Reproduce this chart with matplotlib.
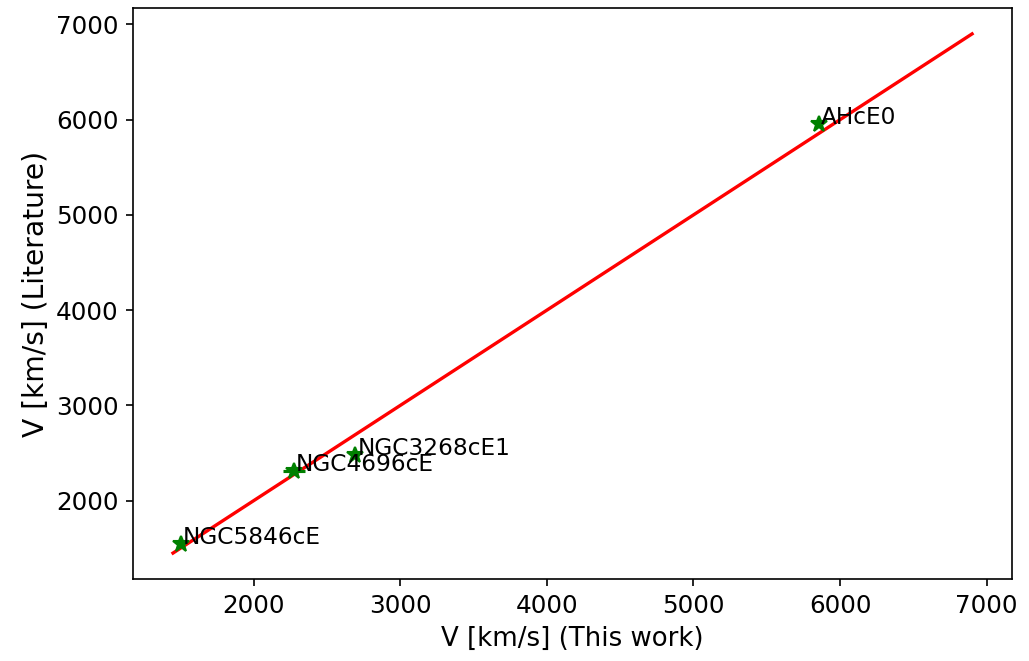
import numpy as np
import matplotlib.pyplot as plt

# Galaxias y velocidades (km/s)
names = ['NGC5846cE', 'NGC4696cE', 'NGC3268cE1', 'AHcE0']
v_this = [1502, 2273, 2694, 5854]
v_lit = [1544, 2311, 2476, 5949]
v_err = [20, 75, 25, 20]

# Linea 1:1
x_line = np.linspace(1450, 6900, 100)

fig, ax = plt.subplots(figsize=(1029 / 150, 661 / 150), dpi=150)
fig.subplots_adjust(left=0.1293, right=0.9835, top=0.988, bottom=0.124)

ax.plot(x_line, x_line, color='red', linewidth=1.6)
ax.errorbar(v_this, v_lit, xerr=v_err, fmt='*', color='green',
            markersize=8, elinewidth=1.5)

for name, x, y in zip(names, v_this, v_lit):
    ax.text(x + 15, y, name, fontsize=11.2)

ax.set_xlabel('V [km/s] (This work)', fontsize=12.5)
ax.set_ylabel('V [km/s] (Literature)', fontsize=13.5, labelpad=3)
ax.tick_params(labelsize=11.8)

fig.savefig('out.png', dpi=150)
